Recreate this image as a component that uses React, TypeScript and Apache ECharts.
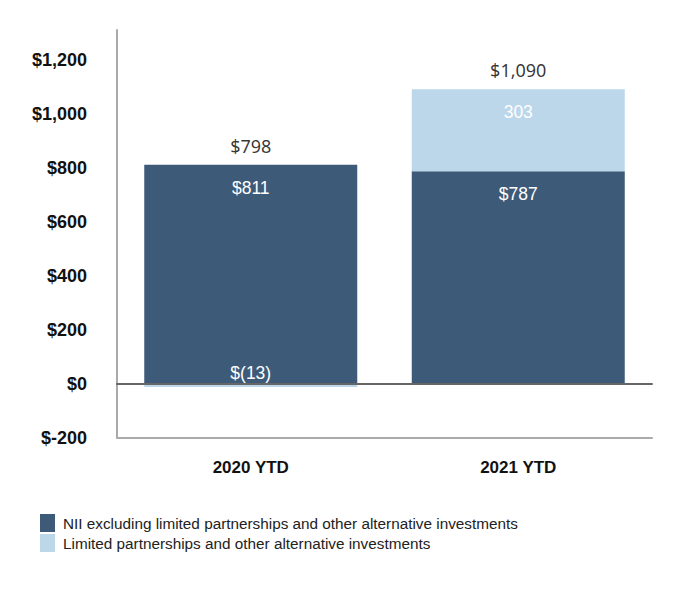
import React, { useEffect, useRef } from "react";
import * as echarts from "echarts";

const categories = ["2020 YTD", "2021 YTD"];
const niiExLP = [811, 787];
const limitedPartnerships = [-13, 303];
const totals = [798, 1090];
const niiLabels = ["$811", "$787"];
const lpLabels = ["$(13)", "303"];
const totalLabels = ["$798", "$1,090"];
const yTicks = [-200, 0, 200, 400, 600, 800, 1000, 1200];

const DARK = "#3d5a78";
const LIGHT = "#bcd6ea";

function fmtTick(v: number): string {
  if (v < 0) return "$-" + Math.abs(v).toLocaleString("en-US");
  return "$" + v.toLocaleString("en-US");
}

export default function App() {
  const ref = useRef<HTMLDivElement>(null);
  useEffect(() => {
    if (!ref.current) return;
    const chart = echarts.init(ref.current, undefined, { renderer: "svg" });
    const stackTops = categories.map((_, i) =>
      Math.max(0, niiExLP[i]) + Math.max(0, limitedPartnerships[i])
    );
    chart.setOption({
      animation: false,
      backgroundColor: "#ffffff",
      grid: { left: 117, right: 30, top: 30, bottom: 158.5 },
      legend: {
        orient: "vertical",
        left: 40,
        top: 514,
        padding: 0,
        itemWidth: 15,
        itemHeight: 18,
        itemGap: 2,
        icon: "rect",
        textStyle: {
          fontFamily: "Liberation Sans, Arial",
          fontSize: 15.3,
          lineHeight: 18,
          color: "#222",
          padding: [0, 0, 0, 3],
        },
        data: [
          "NII excluding limited partnerships and other alternative investments",
          "Limited partnerships and other alternative investments",
        ],
      },
      xAxis: [
        {
          type: "category",
          data: categories,
          axisLine: { onZero: false, lineStyle: { color: "#aaaaaa", width: 2 } },
          axisTick: { show: false },
          axisLabel: {
            margin: 21,
            fontFamily: "Liberation Sans, Arial",
            fontWeight: "bold",
            fontSize: 17,
            color: "#111",
          },
        },
        {
          type: "category",
          data: categories,
          position: "bottom",
          axisLine: { onZero: true, lineStyle: { color: "#666666", width: 2 } },
          axisTick: { show: false },
          axisLabel: { show: false },
          z: 3,
        },
      ],
      yAxis: {
        type: "value",
        min: -200,
        max: 1310,
        interval: 200,
        splitLine: { show: false },
        axisLine: { show: true, lineStyle: { color: "#aaaaaa", width: 2 } },
        axisTick: { show: false },
        axisLabel: {
          margin: 30,
          fontFamily: "Liberation Sans, Arial",
          fontWeight: "bold",
          fontSize: 18,
          color: "#111",
          formatter: (v: number) => (yTicks.indexOf(v) >= 0 ? fmtTick(v) : ""),
        },
      },
      series: [
        {
          name: "NII excluding limited partnerships and other alternative investments",
          type: "bar",
          stack: "a",
          barWidth: 213,
          itemStyle: { color: DARK },
          data: niiExLP,
          label: {
            show: true,
            position: "insideTop",
            distance: 14,
            color: "#ffffff",
            fontFamily: "Liberation Sans, Arial",
            fontSize: 17.5,
            formatter: (p: any) => niiLabels[p.dataIndex],
          },
        },
        {
          name: "Limited partnerships and other alternative investments",
          type: "bar",
          stack: "a",
          barWidth: 213,
          itemStyle: { color: LIGHT },
          data: limitedPartnerships.map((v) => ({
            value: v,
            label: v < 0
              ? { position: "top", distance: 2 }
              : { position: "insideTop", distance: 14 },
          })),
          label: {
            show: true,
            color: "#ffffff",
            fontFamily: "Liberation Sans, Arial",
            fontSize: 17.5,
            formatter: (p: any) => lpLabels[p.dataIndex],
          },
        },
        {
          name: "total",
          type: "scatter",
          symbolSize: 0,
          data: stackTops,
          silent: true,
          label: {
            show: true,
            position: "top",
            distance: 10,
            color: "#000",
            fontFamily: "Noto Sans, Lato, sans-serif",
            fontSize: 18,
            formatter: (p: any) => totalLabels[p.dataIndex],
          },
        },
      ],
    });
    return () => chart.dispose();
  }, []);
  return (
    <div
      ref={ref}
      style={{ position: "absolute", left: 0, top: 0, width: 682, height: 596 }}
    />
  );
}
